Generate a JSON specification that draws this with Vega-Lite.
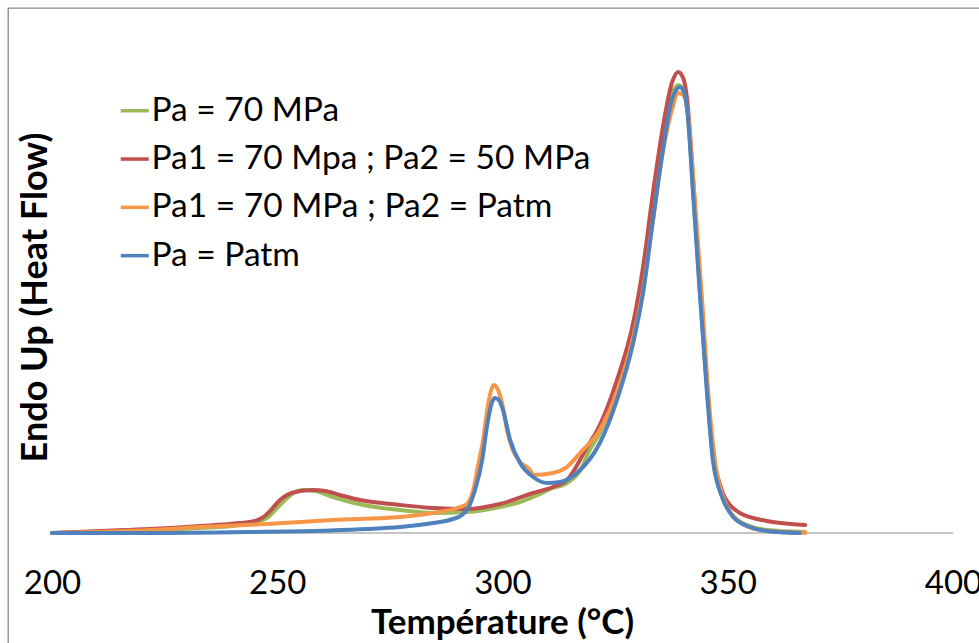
{
  "$schema": "https://vega.github.io/schema/vega-lite/v6.json",
  "autosize": {"type": "none"},
  "padding": {"left": 8, "top": 8, "right": 0, "bottom": 0},
  "width": 980,
  "height": 642,
  "background": "#ffffff",
  "config": {
    "view": {"stroke": "#868686", "strokeWidth": 1.3},
    "font": "Lato"
  },
  "data": {
    "values": [
      {"serie": "Pa = 70 MPa", "temperature": 200.0, "flux": 0.0},
      {"serie": "Pa = 70 MPa", "temperature": 210.7, "flux": 0.1},
      {"serie": "Pa = 70 MPa", "temperature": 221.8, "flux": 0.3},
      {"serie": "Pa = 70 MPa", "temperature": 232.9, "flux": 0.5},
      {"serie": "Pa = 70 MPa", "temperature": 241.7, "flux": 0.8},
      {"serie": "Pa = 70 MPa", "temperature": 245.1, "flux": 1.1},
      {"serie": "Pa = 70 MPa", "temperature": 247.7, "flux": 1.5},
      {"serie": "Pa = 70 MPa", "temperature": 250.6, "flux": 2.8},
      {"serie": "Pa = 70 MPa", "temperature": 253.3, "flux": 3.9},
      {"serie": "Pa = 70 MPa", "temperature": 255.7, "flux": 4.3},
      {"serie": "Pa = 70 MPa", "temperature": 258.4, "flux": 4.2},
      {"serie": "Pa = 70 MPa", "temperature": 261.7, "flux": 3.7},
      {"serie": "Pa = 70 MPa", "temperature": 266.2, "flux": 3.1},
      {"serie": "Pa = 70 MPa", "temperature": 271.7, "flux": 2.6},
      {"serie": "Pa = 70 MPa", "temperature": 277.3, "flux": 2.3},
      {"serie": "Pa = 70 MPa", "temperature": 284.6, "flux": 2.0},
      {"serie": "Pa = 70 MPa", "temperature": 292.1, "flux": 2.1},
      {"serie": "Pa = 70 MPa", "temperature": 299.4, "flux": 2.6},
      {"serie": "Pa = 70 MPa", "temperature": 303.9, "flux": 3.1},
      {"serie": "Pa = 70 MPa", "temperature": 306.8, "flux": 3.6},
      {"serie": "Pa = 70 MPa", "temperature": 311.2, "flux": 4.5},
      {"serie": "Pa = 70 MPa", "temperature": 314.3, "flux": 5.0},
      {"serie": "Pa = 70 MPa", "temperature": 317.9, "flux": 6.8},
      {"serie": "Pa = 70 MPa", "temperature": 318.8, "flux": 7.8},
      {"serie": "Pa = 70 MPa", "temperature": 321.6, "flux": 10.0},
      {"serie": "Pa = 70 MPa", "temperature": 325.4, "flux": 14.3},
      {"serie": "Pa = 70 MPa", "temperature": 329.0, "flux": 20.0},
      {"serie": "Pa = 70 MPa", "temperature": 331.2, "flux": 25.3},
      {"serie": "Pa = 70 MPa", "temperature": 333.4, "flux": 32.6},
      {"serie": "Pa = 70 MPa", "temperature": 335.6, "flux": 39.3},
      {"serie": "Pa = 70 MPa", "temperature": 337.6, "flux": 43.8},
      {"serie": "Pa = 70 MPa", "temperature": 339.0, "flux": 44.8},
      {"serie": "Pa = 70 MPa", "temperature": 340.1, "flux": 44.3},
      {"serie": "Pa = 70 MPa", "temperature": 341.0, "flux": 42.5},
      {"serie": "Pa = 70 MPa", "temperature": 342.3, "flux": 34.3},
      {"serie": "Pa = 70 MPa", "temperature": 343.8, "flux": 24.3},
      {"serie": "Pa = 70 MPa", "temperature": 345.4, "flux": 14.3},
      {"serie": "Pa = 70 MPa", "temperature": 346.7, "flux": 7.5},
      {"serie": "Pa = 70 MPa", "temperature": 349.0, "flux": 3.4},
      {"serie": "Pa = 70 MPa", "temperature": 351.2, "flux": 1.7},
      {"serie": "Pa = 70 MPa", "temperature": 354.9, "flux": 0.7},
      {"serie": "Pa = 70 MPa", "temperature": 358.7, "flux": 0.3},
      {"serie": "Pa = 70 MPa", "temperature": 367.2, "flux": 0.1},

      {"serie": "Pa1 = 70 Mpa ; Pa2 = 50 MPa", "temperature": 200.0, "flux": 0.0},
      {"serie": "Pa1 = 70 Mpa ; Pa2 = 50 MPa", "temperature": 210.7, "flux": 0.2},
      {"serie": "Pa1 = 70 Mpa ; Pa2 = 50 MPa", "temperature": 221.8, "flux": 0.4},
      {"serie": "Pa1 = 70 Mpa ; Pa2 = 50 MPa", "temperature": 232.9, "flux": 0.7},
      {"serie": "Pa1 = 70 Mpa ; Pa2 = 50 MPa", "temperature": 241.7, "flux": 1.0},
      {"serie": "Pa1 = 70 Mpa ; Pa2 = 50 MPa", "temperature": 244.6, "flux": 1.15},
      {"serie": "Pa1 = 70 Mpa ; Pa2 = 50 MPa", "temperature": 246.6, "flux": 1.5},
      {"serie": "Pa1 = 70 Mpa ; Pa2 = 50 MPa", "temperature": 248.4, "flux": 2.2},
      {"serie": "Pa1 = 70 Mpa ; Pa2 = 50 MPa", "temperature": 250.6, "flux": 3.3},
      {"serie": "Pa1 = 70 Mpa ; Pa2 = 50 MPa", "temperature": 253.9, "flux": 4.1},
      {"serie": "Pa1 = 70 Mpa ; Pa2 = 50 MPa", "temperature": 257.9, "flux": 4.3},
      {"serie": "Pa1 = 70 Mpa ; Pa2 = 50 MPa", "temperature": 260.6, "flux": 4.2},
      {"serie": "Pa1 = 70 Mpa ; Pa2 = 50 MPa", "temperature": 263.9, "flux": 3.8},
      {"serie": "Pa1 = 70 Mpa ; Pa2 = 50 MPa", "temperature": 268.4, "flux": 3.3},
      {"serie": "Pa1 = 70 Mpa ; Pa2 = 50 MPa", "temperature": 277.3, "flux": 2.8},
      {"serie": "Pa1 = 70 Mpa ; Pa2 = 50 MPa", "temperature": 284.6, "flux": 2.5},
      {"serie": "Pa1 = 70 Mpa ; Pa2 = 50 MPa", "temperature": 292.1, "flux": 2.4},
      {"serie": "Pa1 = 70 Mpa ; Pa2 = 50 MPa", "temperature": 299.4, "flux": 2.9},
      {"serie": "Pa1 = 70 Mpa ; Pa2 = 50 MPa", "temperature": 306.8, "flux": 4.0},
      {"serie": "Pa1 = 70 Mpa ; Pa2 = 50 MPa", "temperature": 311.2, "flux": 4.6},
      {"serie": "Pa1 = 70 Mpa ; Pa2 = 50 MPa", "temperature": 314.3, "flux": 5.3},
      {"serie": "Pa1 = 70 Mpa ; Pa2 = 50 MPa", "temperature": 318.8, "flux": 8.6},
      {"serie": "Pa1 = 70 Mpa ; Pa2 = 50 MPa", "temperature": 321.6, "flux": 10.8},
      {"serie": "Pa1 = 70 Mpa ; Pa2 = 50 MPa", "temperature": 325.4, "flux": 15.3},
      {"serie": "Pa1 = 70 Mpa ; Pa2 = 50 MPa", "temperature": 329.0, "flux": 21.0},
      {"serie": "Pa1 = 70 Mpa ; Pa2 = 50 MPa", "temperature": 331.2, "flux": 26.6},
      {"serie": "Pa1 = 70 Mpa ; Pa2 = 50 MPa", "temperature": 333.4, "flux": 34.0},
      {"serie": "Pa1 = 70 Mpa ; Pa2 = 50 MPa", "temperature": 335.6, "flux": 40.6},
      {"serie": "Pa1 = 70 Mpa ; Pa2 = 50 MPa", "temperature": 337.6, "flux": 45.0},
      {"serie": "Pa1 = 70 Mpa ; Pa2 = 50 MPa", "temperature": 339.0, "flux": 46.1},
      {"serie": "Pa1 = 70 Mpa ; Pa2 = 50 MPa", "temperature": 340.1, "flux": 45.5},
      {"serie": "Pa1 = 70 Mpa ; Pa2 = 50 MPa", "temperature": 341.0, "flux": 43.3},
      {"serie": "Pa1 = 70 Mpa ; Pa2 = 50 MPa", "temperature": 342.3, "flux": 35.3},
      {"serie": "Pa1 = 70 Mpa ; Pa2 = 50 MPa", "temperature": 343.8, "flux": 25.0},
      {"serie": "Pa1 = 70 Mpa ; Pa2 = 50 MPa", "temperature": 345.4, "flux": 14.8},
      {"serie": "Pa1 = 70 Mpa ; Pa2 = 50 MPa", "temperature": 346.7, "flux": 8.1},
      {"serie": "Pa1 = 70 Mpa ; Pa2 = 50 MPa", "temperature": 348.3, "flux": 4.8},
      {"serie": "Pa1 = 70 Mpa ; Pa2 = 50 MPa", "temperature": 349.4, "flux": 3.5},
      {"serie": "Pa1 = 70 Mpa ; Pa2 = 50 MPa", "temperature": 350.5, "flux": 2.8},
      {"serie": "Pa1 = 70 Mpa ; Pa2 = 50 MPa", "temperature": 352.7, "flux": 2.0},
      {"serie": "Pa1 = 70 Mpa ; Pa2 = 50 MPa", "temperature": 358.7, "flux": 1.2},
      {"serie": "Pa1 = 70 Mpa ; Pa2 = 50 MPa", "temperature": 367.2, "flux": 0.8},

      {"serie": "Pa1 = 70 MPa ; Pa2 = Patm", "temperature": 200.0, "flux": 0.0},
      {"serie": "Pa1 = 70 MPa ; Pa2 = Patm", "temperature": 221.8, "flux": 0.3},
      {"serie": "Pa1 = 70 MPa ; Pa2 = Patm", "temperature": 232.9, "flux": 0.6},
      {"serie": "Pa1 = 70 MPa ; Pa2 = Patm", "temperature": 247.7, "flux": 0.9},
      {"serie": "Pa1 = 70 MPa ; Pa2 = Patm", "temperature": 262.4, "flux": 1.3},
      {"serie": "Pa1 = 70 MPa ; Pa2 = Patm", "temperature": 277.3, "flux": 1.6},
      {"serie": "Pa1 = 70 MPa ; Pa2 = Patm", "temperature": 284.6, "flux": 2.0},
      {"serie": "Pa1 = 70 MPa ; Pa2 = Patm", "temperature": 290.6, "flux": 2.6},
      {"serie": "Pa1 = 70 MPa ; Pa2 = Patm", "temperature": 292.1, "flux": 2.9},
      {"serie": "Pa1 = 70 MPa ; Pa2 = Patm", "temperature": 293.5, "flux": 4.3},
      {"serie": "Pa1 = 70 MPa ; Pa2 = Patm", "temperature": 294.6, "flux": 6.8},
      {"serie": "Pa1 = 70 MPa ; Pa2 = Patm", "temperature": 295.7, "flux": 9.3},
      {"serie": "Pa1 = 70 MPa ; Pa2 = Patm", "temperature": 296.6, "flux": 12.3},
      {"serie": "Pa1 = 70 MPa ; Pa2 = Patm", "temperature": 297.5, "flux": 14.3},
      {"serie": "Pa1 = 70 MPa ; Pa2 = Patm", "temperature": 298.1, "flux": 14.8},
      {"serie": "Pa1 = 70 MPa ; Pa2 = Patm", "temperature": 298.8, "flux": 14.5},
      {"serie": "Pa1 = 70 MPa ; Pa2 = Patm", "temperature": 299.9, "flux": 13.0},
      {"serie": "Pa1 = 70 MPa ; Pa2 = Patm", "temperature": 301.0, "flux": 10.3},
      {"serie": "Pa1 = 70 MPa ; Pa2 = Patm", "temperature": 302.3, "flux": 8.3},
      {"serie": "Pa1 = 70 MPa ; Pa2 = Patm", "temperature": 303.9, "flux": 7.1},
      {"serie": "Pa1 = 70 MPa ; Pa2 = Patm", "temperature": 306.1, "flux": 6.3},
      {"serie": "Pa1 = 70 MPa ; Pa2 = Patm", "temperature": 306.8, "flux": 5.8},
      {"serie": "Pa1 = 70 MPa ; Pa2 = Patm", "temperature": 311.2, "flux": 6.0},
      {"serie": "Pa1 = 70 MPa ; Pa2 = Patm", "temperature": 314.3, "flux": 6.6},
      {"serie": "Pa1 = 70 MPa ; Pa2 = Patm", "temperature": 317.2, "flux": 8.0},
      {"serie": "Pa1 = 70 MPa ; Pa2 = Patm", "temperature": 321.6, "flux": 10.3},
      {"serie": "Pa1 = 70 MPa ; Pa2 = Patm", "temperature": 325.4, "flux": 14.1},
      {"serie": "Pa1 = 70 MPa ; Pa2 = Patm", "temperature": 329.0, "flux": 19.5},
      {"serie": "Pa1 = 70 MPa ; Pa2 = Patm", "temperature": 331.2, "flux": 24.3},
      {"serie": "Pa1 = 70 MPa ; Pa2 = Patm", "temperature": 333.4, "flux": 31.3},
      {"serie": "Pa1 = 70 MPa ; Pa2 = Patm", "temperature": 335.6, "flux": 38.1},
      {"serie": "Pa1 = 70 MPa ; Pa2 = Patm", "temperature": 337.6, "flux": 42.3},
      {"serie": "Pa1 = 70 MPa ; Pa2 = Patm", "temperature": 339.0, "flux": 44.0},
      {"serie": "Pa1 = 70 MPa ; Pa2 = Patm", "temperature": 340.1, "flux": 43.8},
      {"serie": "Pa1 = 70 MPa ; Pa2 = Patm", "temperature": 341.2, "flux": 41.8},
      {"serie": "Pa1 = 70 MPa ; Pa2 = Patm", "temperature": 342.7, "flux": 33.3},
      {"serie": "Pa1 = 70 MPa ; Pa2 = Patm", "temperature": 344.3, "flux": 23.3},
      {"serie": "Pa1 = 70 MPa ; Pa2 = Patm", "temperature": 345.8, "flux": 13.3},
      {"serie": "Pa1 = 70 MPa ; Pa2 = Patm", "temperature": 347.2, "flux": 7.1},
      {"serie": "Pa1 = 70 MPa ; Pa2 = Patm", "temperature": 349.4, "flux": 3.1},
      {"serie": "Pa1 = 70 MPa ; Pa2 = Patm", "temperature": 351.6, "flux": 1.5},
      {"serie": "Pa1 = 70 MPa ; Pa2 = Patm", "temperature": 355.4, "flux": 0.5},
      {"serie": "Pa1 = 70 MPa ; Pa2 = Patm", "temperature": 359.4, "flux": 0.2},
      {"serie": "Pa1 = 70 MPa ; Pa2 = Patm", "temperature": 367.2, "flux": 0.0},

      {"serie": "Pa = Patm", "temperature": 200.0, "flux": 0.0},
      {"serie": "Pa = Patm", "temperature": 221.8, "flux": 0.0},
      {"serie": "Pa = Patm", "temperature": 243.9, "flux": 0.1},
      {"serie": "Pa = Patm", "temperature": 261.7, "flux": 0.25},
      {"serie": "Pa = Patm", "temperature": 270.0, "flux": 0.4},
      {"serie": "Pa = Patm", "temperature": 277.3, "flux": 0.6},
      {"serie": "Pa = Patm", "temperature": 284.6, "flux": 1.0},
      {"serie": "Pa = Patm", "temperature": 289.0, "flux": 1.4},
      {"serie": "Pa = Patm", "temperature": 291.0, "flux": 1.8},
      {"serie": "Pa = Patm", "temperature": 292.5, "flux": 2.6},
      {"serie": "Pa = Patm", "temperature": 293.9, "flux": 4.3},
      {"serie": "Pa = Patm", "temperature": 295.5, "flux": 7.3},
      {"serie": "Pa = Patm", "temperature": 296.6, "flux": 10.8},
      {"serie": "Pa = Patm", "temperature": 297.7, "flux": 13.1},
      {"serie": "Pa = Patm", "temperature": 298.3, "flux": 13.5},
      {"serie": "Pa = Patm", "temperature": 299.2, "flux": 13.3},
      {"serie": "Pa = Patm", "temperature": 300.1, "flux": 12.3},
      {"serie": "Pa = Patm", "temperature": 301.7, "flux": 9.3},
      {"serie": "Pa = Patm", "temperature": 303.9, "flux": 7.0},
      {"serie": "Pa = Patm", "temperature": 306.8, "flux": 5.6},
      {"serie": "Pa = Patm", "temperature": 309.9, "flux": 5.0},
      {"serie": "Pa = Patm", "temperature": 312.8, "flux": 5.1},
      {"serie": "Pa = Patm", "temperature": 316.5, "flux": 6.0},
      {"serie": "Pa = Patm", "temperature": 321.6, "flux": 9.0},
      {"serie": "Pa = Patm", "temperature": 325.4, "flux": 13.3},
      {"serie": "Pa = Patm", "temperature": 329.0, "flux": 19.0},
      {"serie": "Pa = Patm", "temperature": 331.2, "flux": 24.0},
      {"serie": "Pa = Patm", "temperature": 333.4, "flux": 31.3},
      {"serie": "Pa = Patm", "temperature": 335.6, "flux": 38.3},
      {"serie": "Pa = Patm", "temperature": 337.6, "flux": 43.3},
      {"serie": "Pa = Patm", "temperature": 339.4, "flux": 44.6},
      {"serie": "Pa = Patm", "temperature": 340.3, "flux": 44.1},
      {"serie": "Pa = Patm", "temperature": 341.0, "flux": 42.3},
      {"serie": "Pa = Patm", "temperature": 342.3, "flux": 34.0},
      {"serie": "Pa = Patm", "temperature": 343.8, "flux": 24.0},
      {"serie": "Pa = Patm", "temperature": 345.4, "flux": 14.0},
      {"serie": "Pa = Patm", "temperature": 346.7, "flux": 7.3},
      {"serie": "Pa = Patm", "temperature": 349.0, "flux": 3.3},
      {"serie": "Pa = Patm", "temperature": 351.2, "flux": 1.6},
      {"serie": "Pa = Patm", "temperature": 354.9, "flux": 0.6},
      {"serie": "Pa = Patm", "temperature": 358.7, "flux": 0.2},
      {"serie": "Pa = Patm", "temperature": 366.0, "flux": 0.0}
    ]
  },
  "layer": [
    {
      "mark": {"type": "rule", "color": "#c4c4c4", "strokeWidth": 1.5},
      "encoding": {
        "x": {"datum": 200, "type": "quantitative"},
        "x2": {"datum": 400},
        "y": {"datum": 0, "type": "quantitative"}
      }
    },
    {
      "mark": {"type": "line", "strokeWidth": 4, "interpolate": "monotone", "strokeCap": "round", "strokeJoin": "round"},
      "encoding": {
        "x": {
          "field": "temperature",
          "type": "quantitative",
          "scale": {"domain": [190.233, 407.77], "nice": false, "zero": false},
          "axis": {
            "title": "Température (°C)",
            "values": [200, 250, 300, 350, 400],
            "offset": -117,
            "domain": false,
            "ticks": false,
            "grid": false,
            "labelFont": "Lato",
            "labelFontSize": 33,
            "labelColor": "#000000",
            "labelPadding": 34,
            "labelFlush": false,
            "labelOverlap": false,
            "titleFont": "Lato",
            "titleFontSize": 35,
            "titleFontWeight": "bold",
            "titleColor": "#000000",
            "titleBaseline": "alphabetic",
            "titleX": 494,
            "titleY": 100
          }
        },
        "y": {
          "field": "flux",
          "type": "quantitative",
          "scale": {"domain": [-11.7, 52.5], "nice": false, "zero": false},
          "axis": {
            "title": "Endo Up (Heat Flow)",
            "labels": false,
            "ticks": false,
            "domain": false,
            "grid": false,
            "titleFont": "Lato",
            "titleFontSize": 36,
            "titleFontWeight": "bold",
            "titleColor": "#000000",
            "titleAngle": -90,
            "titleAlign": "center",
            "titleBaseline": "middle",
            "titleX": 27,
            "titleY": 289
          }
        },
        "color": {
          "field": "serie",
          "type": "nominal",
          "sort": ["Pa = 70 MPa", "Pa1 = 70 Mpa ; Pa2 = 50 MPa", "Pa1 = 70 MPa ; Pa2 = Patm", "Pa = Patm"],
          "scale": {
            "domain": ["Pa = 70 MPa", "Pa1 = 70 Mpa ; Pa2 = 50 MPa", "Pa1 = 70 MPa ; Pa2 = Patm", "Pa = Patm"],
            "range": ["#9bbb59", "#c0504d", "#f79646", "#4f81bd"]
          },
          "legend": {
            "title": null,
            "orient": "none",
            "legendX": 110,
            "legendY": 86,
            "symbolType": "stroke",
            "symbolSize": 784,
            "symbolStrokeWidth": 3.5,
            "labelFont": "Lato",
            "labelFontSize": 33.5,
            "labelColor": "#000000",
            "labelLimit": 0,
            "labelOffset": 0,
            "rowPadding": 13.3
          }
        },
        "order": {"field": "temperature", "type": "quantitative"}
      }
    }
  ]
}
